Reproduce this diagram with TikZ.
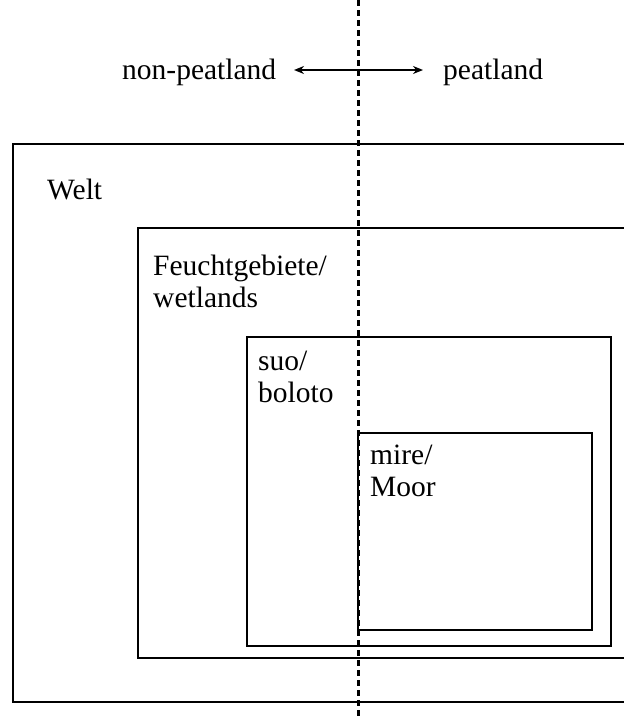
\documentclass[tikz,border=0pt]{standalone}
\usepackage{fontspec}
\setmainfont{Liberation Serif}
\usetikzlibrary{arrows.meta}
\begin{document}
\begin{tikzpicture}[x=1pt,y=-1pt,
  boxline/.style={draw=black,line width=1.8pt},
  lbl/.style={anchor=base west,inner sep=0pt,font=\fontsize{29.5}{32}\selectfont,align=left},
  divider/.style={line width=3pt,dash pattern=on 6pt off 4pt},
  dirarrow/.style={line width=1.8pt,{Stealth[length=10pt,width=8pt]}-{Stealth[length=10pt,width=8pt]}}]
\useasboundingbox (0,0) rectangle (624,718);
% boxes
\draw[boxline] (660,144) -- (13,144) -- (13,702) -- (660,702);
\draw[boxline] (660,228) -- (138,228) -- (138,658) -- (660,658);
\draw[boxline] (247,337) rectangle (611,646);
\draw[boxline] (358,433) rectangle (592,630);
% labels (anchor = baseline of last line)
\node[lbl] (welt) at (47,199) {Welt};
\node[lbl] (feucht) at (153,307) {Feuchtgebiete/\\wetlands};
\node[lbl] (suo) at (258,402) {suo/\\boloto};
\node[lbl] (mire) at (370,496) {mire/\\Moor};
\node[lbl] (np) at (122,79) {non-peatland};
\node[lbl] (p) at (443,79) {peatland};
% divider
\coordinate (dtop) at (358,0);
\coordinate (dbot) at (358,718);
\draw[divider] (dtop) -- (dbot);
% arrow
\coordinate (al) at (294,70);
\coordinate (ar) at (423,70);
\draw[dirarrow] (al) -- (ar);
\end{tikzpicture}
\end{document}
